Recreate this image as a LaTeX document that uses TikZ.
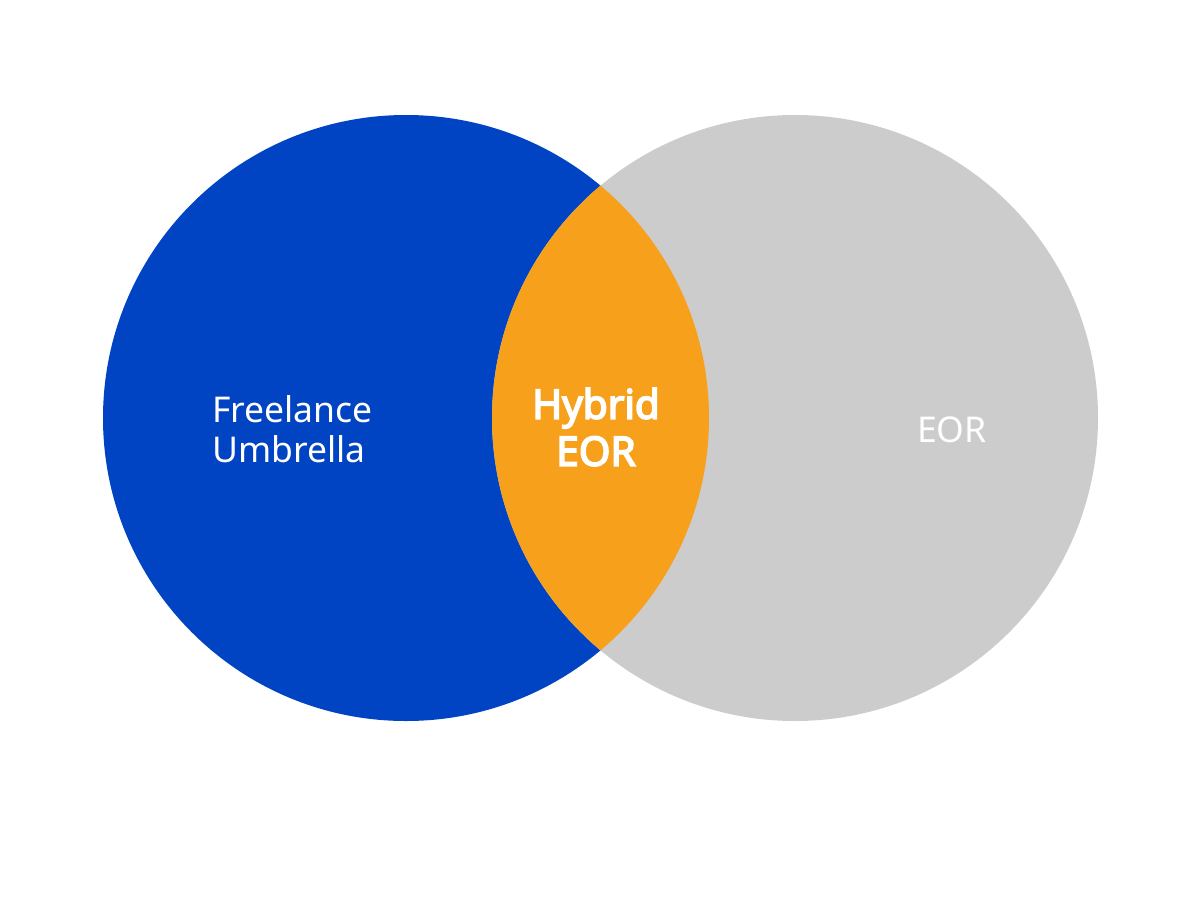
\documentclass[tikz,border=0pt]{standalone}
\usepackage{fontspec}
\setmainfont{Noto Sans}
\newfontfamily\hybridfont{Noto Sans}[FakeBold=4]
\definecolor{umbrellablue}{HTML}{0043C3}
\definecolor{eorgray}{HTML}{CCCCCC}
\definecolor{hybridorange}{HTML}{F7A01C}
\begin{document}
\begin{tikzpicture}[x=1pt,y=-1pt,
  label/.style={text=white,font=\fontsize{35.5}{40}\selectfont,inner sep=0pt},
  boldlabel/.style={text=white,font=\hybridfont\fontsize{40.5}{47}\selectfont,inner sep=0pt,align=center}]
  \useasboundingbox (0,0) rectangle (1200,900);
  % the two sets
  \fill[umbrellablue] (406,418) circle (303);
  \fill[eorgray] (795,418) circle (303);
  % their overlap
  \begin{scope}
    \clip (406,418) circle (303);
    \fill[hybridorange] (795,418) circle (303);
  \end{scope}
  % labels
  \node[label,align=left,anchor=west] (fu) at (212,429) {Freelance\\Umbrella};
  \node[boldlabel] (hy) at (596,427) {Hybrid\\EOR};
  \node[label] (eor) at (952,430) {EOR};
\end{tikzpicture}
\end{document}
